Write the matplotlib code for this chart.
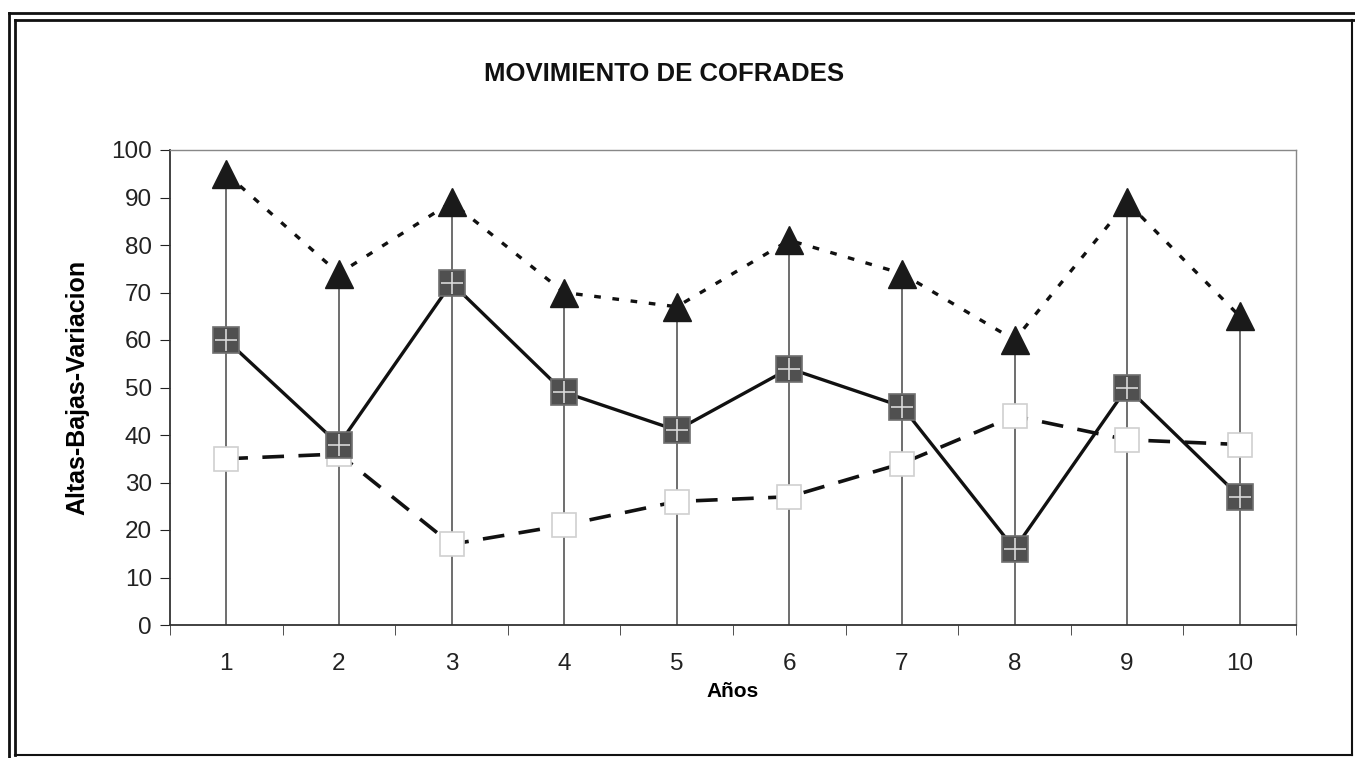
import matplotlib.pyplot as plt
from matplotlib.lines import Line2D

# datos
anos = [1, 2, 3, 4, 5, 6, 7, 8, 9, 10]
altas = [95, 74, 89, 70, 67, 81, 74, 60, 89, 65]
bajas = [35, 36, 17, 21, 26, 27, 34, 44, 39, 38]
variacion = [60, 38, 72, 49, 41, 54, 46, 16, 50, 27]
y_ticks = [0, 10, 20, 30, 40, 50, 60, 70, 80, 90, 100]

plt.rcParams['font.family'] = ['Liberation Sans', 'DejaVu Sans']

W, H = 1355, 758
fig = plt.figure(figsize=(W / 100, H / 100), dpi=100)
ax = fig.add_axes([170 / W, 1 - 625 / H, (1296 - 170) / W, (625 - 150) / H])

# marco doble alrededor del grafico
def linea(x0, y0, x1, y1, lw=2.0):
    fig.add_artist(Line2D([x0 / W, x1 / W], [1 - y0 / H, 1 - y1 / H],
                          transform=fig.transFigure, color='#111111', lw=lw))

linea(9, 13, 1355, 13)
linea(15, 20, 1355, 20)
linea(9, 13, 9, 758)
linea(15, 20, 15, 755)
linea(1352, 20, 1352, 755, lw=1.5)
linea(15, 755, 1352, 755, lw=1.5)

# lineas de caida
ax.vlines(anos, 0, altas, color='#555555', lw=1.2, zorder=1)

# altas
ax.plot(anos, altas, color='#111111', lw=2.4, dashes=(2, 3.5),
        marker='^', ms=20, mfc='#1a1a1a', mec='#1a1a1a', zorder=3)
# bajas
ax.plot(anos, bajas, color='#111111', lw=2.6, dashes=(6, 4),
        marker='s', ms=17, mfc='white', mec='#d0d0d0', mew=1.2, zorder=3)
# variacion
ax.plot(anos, variacion, color='#111111', lw=2.4,
        marker='s', ms=18.5, mfc='#505050', mec='#707070', mew=1.2, zorder=4)
ax.plot(anos, variacion, ls='none', marker='+', ms=16, mec='#d8d8d8',
        mew=1.2, zorder=5)

ax.set_xlim(0.5, 10.5)
ax.set_ylim(0, 100)
ax.set_xticks(anos)
ax.set_xticks([a + 0.5 for a in [0] + anos], minor=True)
ax.set_yticks(y_ticks)
ax.tick_params(axis='x', which='major', length=0, pad=20, labelsize=17.5,
               colors='#222222')
ax.tick_params(axis='x', which='minor', length=7, direction='out',
               color='#333333')
ax.tick_params(axis='y', length=7, direction='out', labelsize=17.5,
               colors='#222222', pad=6)

for lado in ['left', 'bottom']:
    ax.spines[lado].set_color('#333333')
    ax.spines[lado].set_linewidth(1.3)
for lado in ['top', 'right']:
    ax.spines[lado].set_color('#888888')
    ax.spines[lado].set_linewidth(1.0)

ax.set_xlabel('Años', fontsize=15, fontweight='bold', labelpad=5)
ax.set_ylabel('Altas-Bajas-Variacion', fontsize=18, fontweight='bold',
              labelpad=16)
fig.text(664 / W, 1 - 74 / H, 'MOVIMIENTO DE COFRADES', ha='center',
         va='center', fontsize=18.5, fontweight='bold', color='#111111')

fig.savefig('out.png', dpi=100)
